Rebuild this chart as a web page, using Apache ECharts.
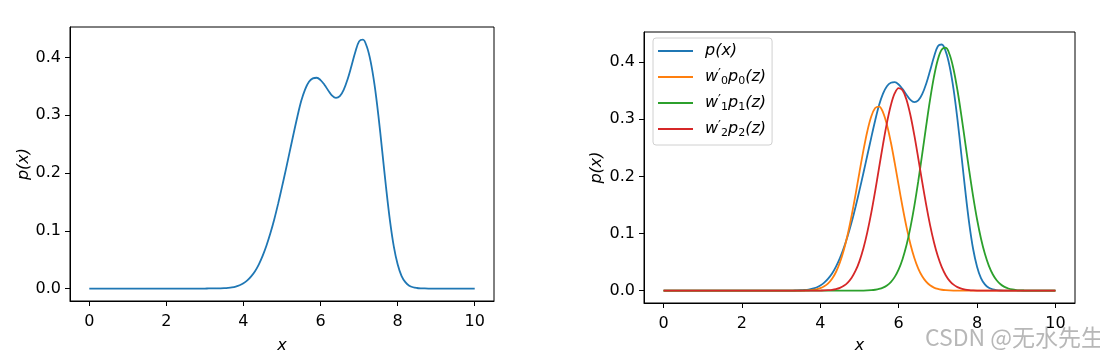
<!DOCTYPE html>
<html>
<head>
<meta charset="utf-8">
<script src="https://cdn.jsdelivr.net/npm/echarts@6/dist/echarts.min.js"></script>
<style>
html,body{margin:0;padding:0;background:#fff;}
#c{width:1100px;height:359px;}
</style>
</head>
<body>
<div id="c"></div>
<script>
// x positions: sparse on the flat part, step 0.1 from 3.0 to 9.5
const xs = [0,1,2,
  3.0,3.1,3.2,3.3,3.4,3.5,3.6,3.7,3.8,3.9,
  4.0,4.1,4.2,4.3,4.4,4.5,4.6,4.7,4.8,4.9,
  5.0,5.1,5.2,5.3,5.4,5.5,5.6,5.7,5.8,5.9,
  6.0,6.1,6.2,6.3,6.4,6.5,6.6,6.7,6.8,6.9,
  7.0,7.1,7.2,7.3,7.4,7.5,7.6,7.7,7.8,7.9,
  8.0,8.1,8.2,8.3,8.4,8.5,8.6,8.7,8.8,8.9,
  9.0,9.1,9.2,9.3,9.4,9.5,
  10];
// p(x)
const pX = [0,0,0,
  0,0.0001,0.0001,0.0002,0.0004,0.0007,0.0012,0.002,0.0034,0.0056,
  0.009,0.014,0.021,0.030,0.042,0.057,0.075,0.096,0.120,0.147,
  0.176,0.206,0.237,0.268,0.298,0.325,0.345,0.358,0.364,0.365,
  0.361,0.353,0.343,0.334,0.330,0.333,0.344,0.362,0.385,0.409,
  0.428,0.431,0.419,0.393,0.353,0.300,0.238,0.175,0.118,0.073,
  0.042,0.022,0.011,0.005,0.0022,0.0009,0.0003,0.0001,0,0,
  0,0,0,0,0,0,
  0];
// w'0 p0(z)
const w0p0 = [0,0,0,
  0,0,0,0,0.0001,0.0001,0.0003,0.0006,0.0012,0.0023,
  0.0043,0.0076,0.0128,0.0209,0.0327,0.0492,0.0711,0.0987,0.1316,0.1686,
  0.2077,0.2456,0.2792,0.3049,0.3198,0.3224,0.3123,0.2906,0.2598,0.2232,
  0.1842,0.146,0.1113,0.0814,0.0573,0.0387,0.0251,0.0157,0.0094,0.0054,
  0.003,0.0016,0.0008,0.0004,0.0002,0.0001,0,0,0,0,
  0,0,0,0,0,0,0,0,0,0,
  0,0,0,0,0,0,
  0];
// w'1 p1(z)
const w1p1 = [0,0,0,
  0,0,0,0,0,0,0,0,0,0,
  0,0,0,0,0,0,0,0,0,0,
  0.0001,0.0002,0.0004,0.0008,0.0016,0.003,0.0053,0.0091,0.0151,0.0241,
  0.0372,0.0555,0.0798,0.1108,0.1483,0.1916,0.2389,0.2875,0.3339,0.3742,
  0.4047,0.4223,0.4253,0.4134,0.3877,0.3509,0.3066,0.2584,0.2102,0.165,
  0.125,0.0914,0.0645,0.0439,0.0288,0.0183,0.0112,0.0066,0.0038,0.0021,
  0.0011,0.0006,0.0003,0.0001,0,0,
  0];
// w'2 p2(z)
const w2p2 = [0,0,0,
  0,0,0,0,0,0,0,0,0,0,
  0.0002,0.0004,0.0008,0.0015,0.0028,0.005,0.0085,0.0142,0.0227,0.0349,
  0.0518,0.0742,0.1024,0.1361,0.1744,0.2153,0.2562,0.2938,0.3246,0.3457,
  0.3548,0.3508,0.3344,0.3071,0.2718,0.2318,0.1906,0.151,0.1153,0.0848,
  0.0601,0.0411,0.0271,0.0172,0.0105,0.0062,0.0035,0.0019,0.001,0.0005,
  0.0002,0.0001,0,0,0,0,0,0,0,0,
  0,0,0,0,0,0,
  0];

const xTicks = [0,2,4,6,8,10];
const yTicks = [0,0.1,0.2,0.3,0.4];
const seriesNames = ['p(x)','w0p0','w1p1','w2p2'];
const legendRich = {
  'p(x)':'{i|p(x)}',
  'w0p0':'{i|w}{pr|′}{s|0}{i|p}{s|0}{i|(z)}',
  'w1p1':'{i|w}{pr|′}{s|1}{i|p}{s|1}{i|(z)}',
  'w2p2':'{i|w}{pr|′}{s|2}{i|p}{s|2}{i|(z)}'
};
const colors = ['#1f77b4','#ff7f0e','#2ca02c','#d62728'];

const FONT = 'DejaVu Sans';
function pairs(arr){ return xs.map((x,i)=>[x,arr[i]]); }

function xAxisCfg(gi){
  return {
    type:'value', gridIndex:gi, min:-0.5, max:10.5,
    axisLine:{show:true,onZero:false,lineStyle:{color:'#000',width:1}},
    axisTick:{show:true,length:5,customValues:xTicks,lineStyle:{color:'#000'}},
    axisLabel:{customValues:xTicks,margin:13,fontSize:16,color:'#000',fontFamily:FONT},
    splitLine:{show:false},
    name:'x', nameLocation:'middle', nameGap: gi===0?37:35, nameMoveOverlap:false,
    nameTextStyle:{fontSize:16,fontStyle:'italic',fontFamily:FONT,color:'#000'}
  };
}
function yAxisCfg(gi){
  return {
    type:'value', gridIndex:gi, min:-0.0216, max:0.4529,
    axisLine:{show:true,onZero:false,lineStyle:{color:'#000',width:1}},
    axisTick:{show:true,length:5,customValues:yTicks,lineStyle:{color:'#000'}},
    axisLabel:{customValues:yTicks,margin:9,fontSize:16,color:'#000',fontFamily:FONT,formatter:v=>v.toFixed(1)},
    splitLine:{show:false},
    name:'p(x)', nameLocation:'middle', nameGap: gi===0?38:39, nameRotate:90, nameMoveOverlap:false,
    nameTextStyle:{fontSize:16,fontStyle:'italic',fontFamily:FONT,color:'#000'}
  };
}

const chart = echarts.init(document.getElementById('c'), null, {renderer:'canvas'});
const lineW = 1.8;
function mk(name, gi, arr, color){
  return {type:'line', name:name, xAxisIndex:gi, yAxisIndex:gi, data:pairs(arr), showSymbol:false,
          smooth:0.35, color:color, lineStyle:{width:lineW}};
}
chart.setOption({
  backgroundColor:'#fff',
  animation:false,
  grid:[
    {left:70,right:606,top:27,bottom:55,show:true,borderColor:'#000',borderWidth:1,backgroundColor:'transparent'},
    {left:644,right:25,top:32,bottom:49,show:true,borderColor:'#000',borderWidth:1,backgroundColor:'transparent'}
  ],
  xAxis:[xAxisCfg(0),xAxisCfg(1)],
  yAxis:[yAxisCfg(0),yAxisCfg(1)],
  legend:{
    data:seriesNames,
    left:653, top:38, orient:'vertical',
    icon:'rect', itemWidth:35, itemHeight:2, itemGap:6,
    padding:[3,6,6,5],
    borderColor:'#d0d0d0', borderWidth:1, borderRadius:3,
    backgroundColor:'rgba(255,255,255,0.8)',
    formatter:n=>legendRich[n],
    textStyle:{fontSize:16,fontFamily:FONT,color:'#000',lineHeight:20,padding:[0,0,0,7],
      rich:{
        i:{fontSize:16,fontStyle:'italic',fontFamily:FONT,color:'#000',lineHeight:20},
        pr:{fontSize:13,fontFamily:FONT,color:'#000',lineHeight:12,verticalAlign:'top'},
        s:{fontSize:11,fontFamily:FONT,color:'#000',lineHeight:12,verticalAlign:'bottom'}
      }}
  },
  graphic:[
    {type:'text', left:925, top:326, silent:true,
     style:{text:'CSDN @无水先生', fontSize:23, fontFamily:'Noto Sans CJK SC', fill:'rgba(175,175,175,0.9)'}}
  ],
  series:[
    mk('p(x)',0,pX,colors[0]),
    mk('p(x)',1,pX,colors[0]),
    mk('w0p0',1,w0p0,colors[1]),
    mk('w1p1',1,w1p1,colors[2]),
    mk('w2p2',1,w2p2,colors[3])
  ]
});
</script>
</body>
</html>
